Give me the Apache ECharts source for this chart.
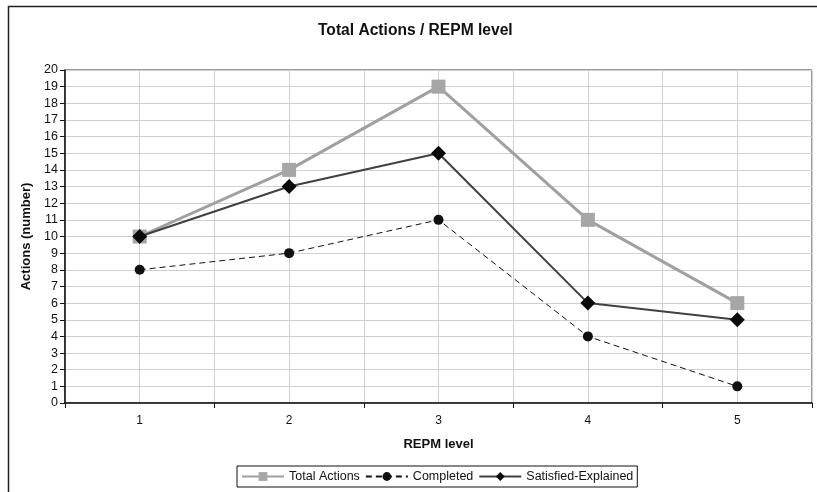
<!DOCTYPE html>
<html><head><meta charset="utf-8">
<script src="https://cdn.jsdelivr.net/npm/echarts@6/dist/echarts.min.js"></script>
<style>html,body{margin:0;padding:0;background:#fff}#c{width:817px;height:492px}</style>
</head><body><div id="c"></div>
<script>
const categories = ['1', '2', '3', '4', '5'];
const totalActions = [10, 14, 19, 11, 6];
const completed = [8, 9, 11, 4, 1];
const satisfiedExplained = [10, 13, 15, 6, 5];
const seriesNames = ['Total Actions', 'Completed', 'Satisfied-Explained'];
const yMin = 0, yMax = 20, yInterval = 1;

const FONT = 'Liberation Sans, Arial, sans-serif';
const chart = echarts.init(document.getElementById('c'), null, {renderer: 'canvas'});
chart.setOption({
  animation: false,
  backgroundColor: '#fff',
  textStyle: {fontFamily: FONT},
  graphic: [{
    type: 'rect', left: 6, top: 4, shape: {x: 0, y: 0, width: 830, height: 510},
    style: {fill: 'none', stroke: '#222', lineWidth: 1.5}, silent: true
  }],
  title: {
    text: 'Total Actions / REPM level', left: 313, top: 18,
    textStyle: {fontSize: 15.6, fontWeight: 'bold', color: '#111', fontFamily: FONT}
  },
  grid: {left: 65, right: 5, top: 70, bottom: 89, show: true, borderColor: '#333', borderWidth: 1},
  legend: {
    data: seriesNames, top: 466, left: 237,
    itemWidth: 42, itemHeight: 11, itemGap: 5,
    borderColor: '#111', borderWidth: 1, padding: [4, 4, 4, 4],
    textStyle: {fontSize: 12.5, color: '#111', fontFamily: FONT}
  },
  xAxis: [{
    type: 'category', data: categories, boundaryGap: true,
    name: 'REPM level', nameLocation: 'middle', nameGap: 35,
    nameTextStyle: {fontSize: 13, fontWeight: 'bold', color: '#111', fontFamily: FONT},
    axisLine: {lineStyle: {color: '#111', width: 1.5}},
    axisTick: {show: true, length: 5, lineStyle: {color: '#111'}},
    axisLabel: {fontSize: 12, color: '#111', margin: 12, fontFamily: FONT},
    splitLine: {show: false}
  }, {
    type: 'value', min: 0.5, max: 5.5, interval: 0.5, position: 'bottom',
    axisLine: {show: false}, axisTick: {show: false}, axisLabel: {show: false},
    splitLine: {show: true, lineStyle: {color: '#d0d0d0', width: 1}}
  }],
  yAxis: {
    type: 'value', min: yMin, max: yMax, interval: yInterval,
    name: 'Actions (number)', nameLocation: 'middle', nameGap: 27, nameRotate: 90,
    nameTextStyle: {fontSize: 13, fontWeight: 'bold', color: '#111', fontFamily: FONT},
    axisLine: {show: true, lineStyle: {color: '#111', width: 1.5}},
    axisTick: {show: true, length: 5, lineStyle: {color: '#111'}},
    axisLabel: {fontSize: 12.5, color: '#111', margin: 7, fontFamily: FONT},
    splitLine: {show: true, lineStyle: {color: '#d0d0d0', width: 1}}
  },
  series: [{
    name: seriesNames[0], type: 'line', data: totalActions,
    symbol: 'rect', symbolSize: 14,
    lineStyle: {color: '#a0a0a0', width: 3},
    itemStyle: {color: '#a6a6a6'}, z: 2
  }, {
    name: seriesNames[1], type: 'line', data: completed,
    symbol: 'circle', symbolSize: 10,
    lineStyle: {color: '#111', width: 1, type: [6, 4]},
    itemStyle: {color: '#111'}, z: 3
  }, {
    name: seriesNames[2], type: 'line', data: satisfiedExplained,
    symbol: 'diamond', symbolSize: 15,
    lineStyle: {color: '#404040', width: 2},
    itemStyle: {color: '#0a0a0a'}, z: 4
  }]
});
</script></body></html>
